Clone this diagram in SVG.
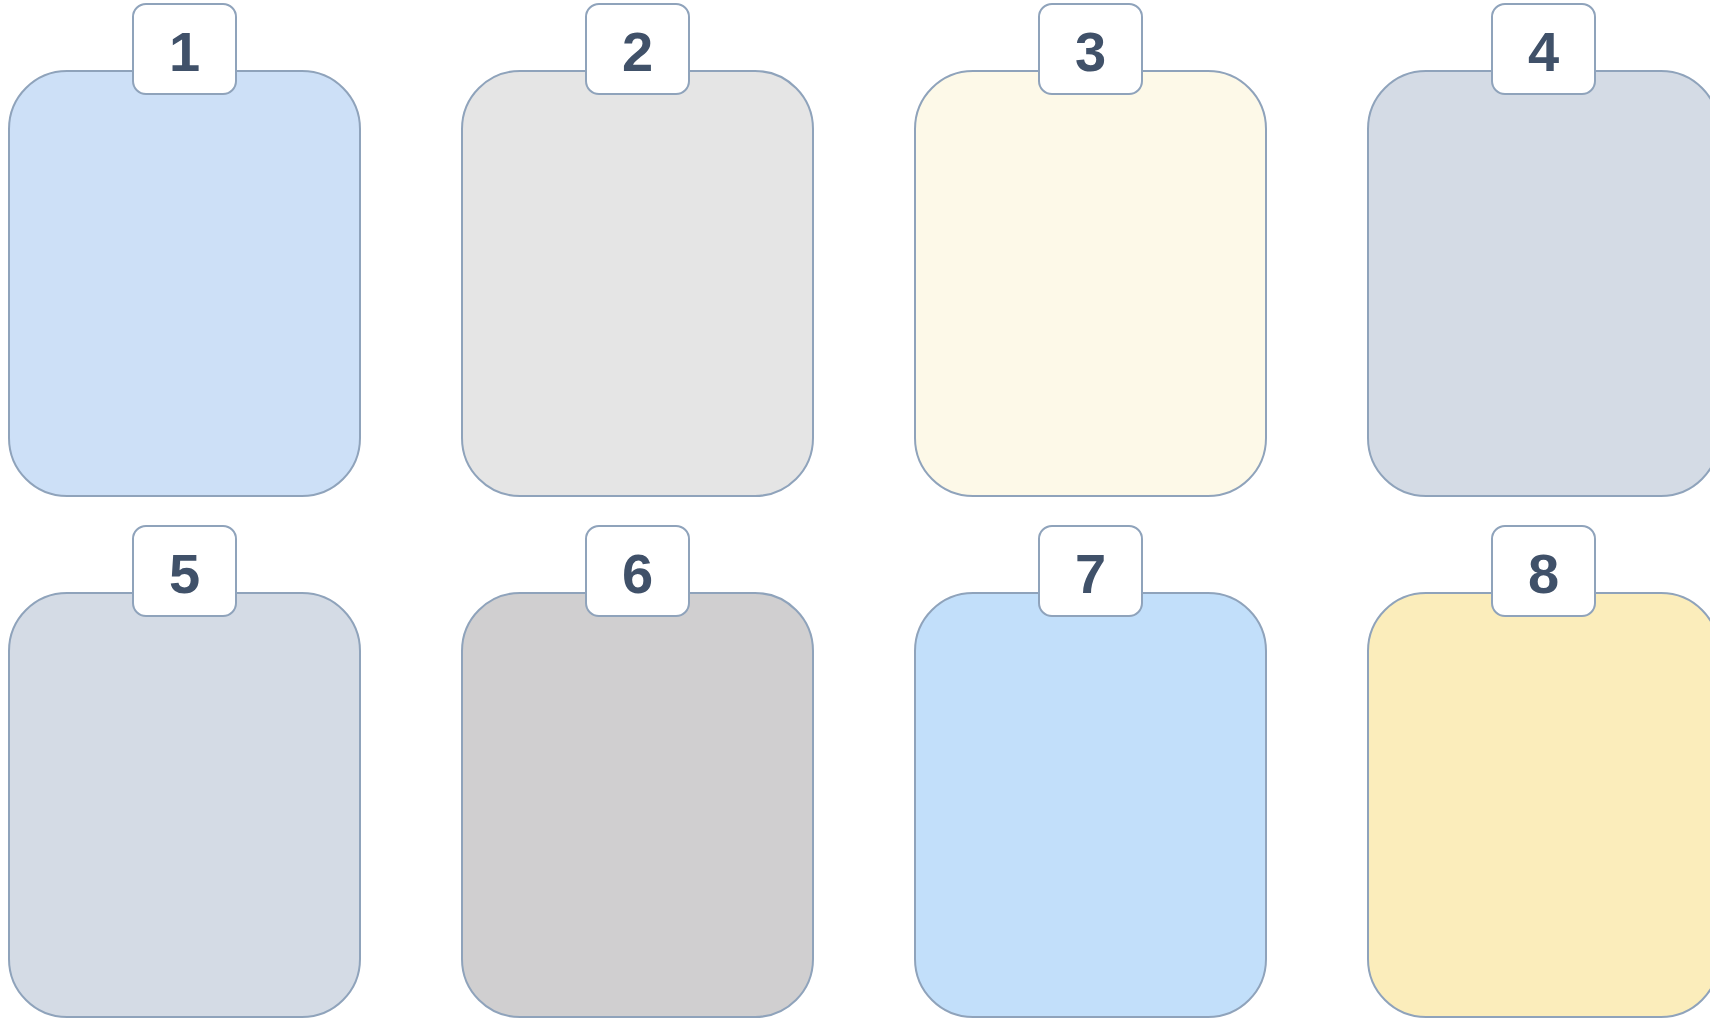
<svg xmlns="http://www.w3.org/2000/svg" width="1710" height="1018" viewBox="0 0 1710 1018">
<style>
.card{stroke:#8fa3bb;stroke-width:2}
.tab{fill:#ffffff;stroke:#8fa3bb;stroke-width:2}
.num{font-family:"Liberation Sans",Arial,sans-serif;font-weight:bold;font-size:56px;fill:#405169;text-anchor:middle}
</style>
<rect width="1710" height="1018" fill="#ffffff"/>
<g id="node1"><rect class="card" x="9" y="71" width="351" height="425" rx="58" fill="#cde0f7"/><rect class="tab" x="133" y="4" width="103" height="90" rx="13"/><text class="num" x="184.5" y="71">1</text></g>
<g id="node2"><rect class="card" x="462" y="71" width="351" height="425" rx="58" fill="#e5e5e5"/><rect class="tab" x="586" y="4" width="103" height="90" rx="13"/><text class="num" x="637.5" y="71">2</text></g>
<g id="node3"><rect class="card" x="915" y="71" width="351" height="425" rx="58" fill="#fdf9e8"/><rect class="tab" x="1039" y="4" width="103" height="90" rx="13"/><text class="num" x="1090.5" y="71">3</text></g>
<g id="node4"><rect class="card" x="1368" y="71" width="351" height="425" rx="58" fill="#d4dbe5"/><rect class="tab" x="1492" y="4" width="103" height="90" rx="13"/><text class="num" x="1543.5" y="71">4</text></g>
<g id="node5"><rect class="card" x="9" y="593" width="351" height="424" rx="58" fill="#d4dbe5"/><rect class="tab" x="133" y="526" width="103" height="90" rx="13"/><text class="num" x="184.5" y="593">5</text></g>
<g id="node6"><rect class="card" x="462" y="593" width="351" height="424" rx="58" fill="#d0cfd0"/><rect class="tab" x="586" y="526" width="103" height="90" rx="13"/><text class="num" x="637.5" y="593">6</text></g>
<g id="node7"><rect class="card" x="915" y="593" width="351" height="424" rx="58" fill="#c2dffa"/><rect class="tab" x="1039" y="526" width="103" height="90" rx="13"/><text class="num" x="1090.5" y="593">7</text></g>
<g id="node8"><rect class="card" x="1368" y="593" width="351" height="424" rx="58" fill="#fbedbb"/><rect class="tab" x="1492" y="526" width="103" height="90" rx="13"/><text class="num" x="1543.5" y="593">8</text></g>
<g id="connectors"></g>
</svg>
